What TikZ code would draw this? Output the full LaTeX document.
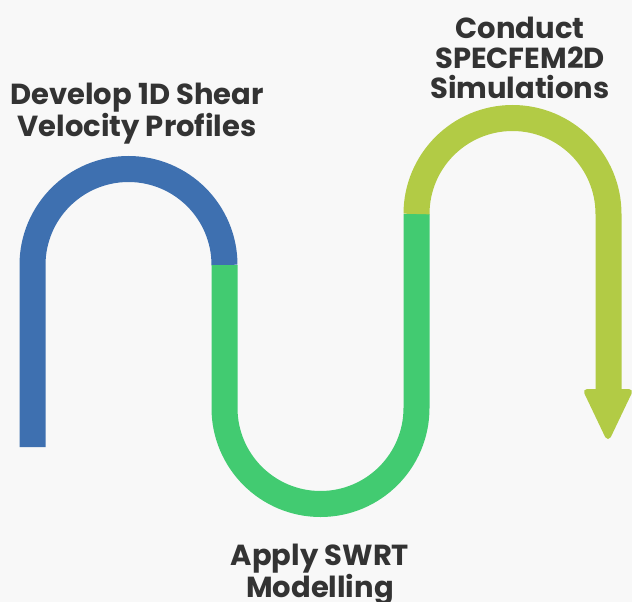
\documentclass[tikz,border=0pt]{standalone}
\usepackage{fontspec}
\setmainfont{Poppins}
\usetikzlibrary{positioning}

\definecolor{bg}{HTML}{F8F8F8}
\definecolor{stepblue}{HTML}{3E70B0}
\definecolor{stepgreen}{HTML}{42CB71}
\definecolor{steplime}{HTML}{B2CB45}
\definecolor{txt}{HTML}{333333}

\begin{document}
\begin{tikzpicture}[x=1pt, y=-1pt,
        band/.style={line width=26pt},
        label/.style={text=txt, align=center, inner sep=0pt,
                font=\fontsize{29}{30}\selectfont\bfseries}]
        \fill[bg] (0,0) rectangle (632,602);
        \useasboundingbox (0,0) rectangle (632,602);

        % turning points of the path (y grows downwards)
        \coordinate (start) at (32.5,447);
        \coordinate (b1) at (32.5,265);
        \coordinate (b2) at (224.5,265);
        \coordinate (g1) at (224.5,408);
        \coordinate (g2) at (416.5,408);
        \coordinate (l1) at (416.5,214);
        \coordinate (l2) at (608.5,214);
        \coordinate (l3) at (608.5,391);

        \draw[band, stepblue] (start) -- (b1) arc (180:360:96);
        \draw[band, stepgreen] (b2) -- (g1) arc (180:0:96) -- (l1);
        \draw[band, steplime] (l1) arc (180:360:96) -- (l3);
        % arrow head
        \filldraw[steplime, line width=6pt, line join=round]
                (587,392) -- (629,392) -- (608,436) -- cycle;

        \foreach \name/\x/\y/\txt in {
                        develop/137/114/{Develop 1D Shear\\Velocity Profiles},
                        apply/320/575/{Apply SWRT\\Modelling},
                        conduct/520/57.5/{Conduct\\SPECFEM2D\\Simulations}} {
                \node[label] (\name) at (\x,\y) {\txt};
            }

    \end{tikzpicture}
\end{document}
